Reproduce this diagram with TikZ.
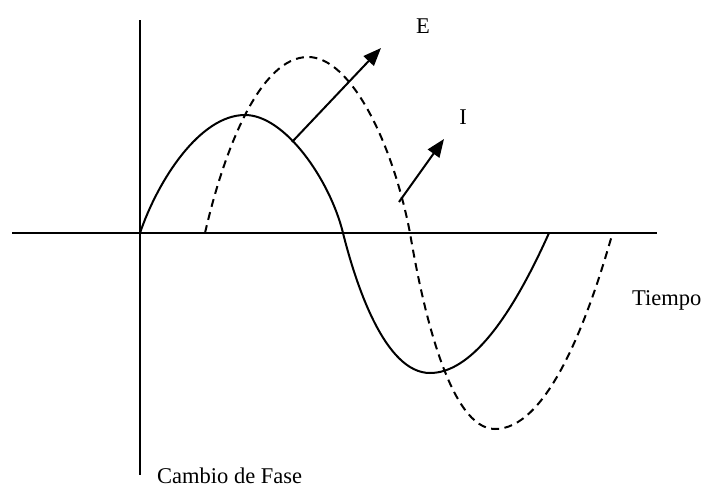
\documentclass[tikz,border=0pt]{standalone}
\usepackage{fontspec}
\setmainfont{Liberation Serif}
\usepackage{tikz}
\usetikzlibrary{positioning,arrows.meta}
\tikzset{
  axis/.style={line width=2.8pt,black},
  vaxis/.style={line width=2pt,black},
  wave/.style={line width=2pt,black},
  lag/.style={wave,dash pattern=on 8pt off 5.5pt},
  arr/.style={-{Triangle[length=18pt,width=14pt]},line width=2pt},
  lbl/.style={font=\fontsize{22.5}{26}\selectfont,inner sep=0pt},
}
\begin{document}
\begin{tikzpicture}[x=1pt,y=-1pt]
\useasboundingbox (0,0) rectangle (706,493);
% axes
\coordinate (hl) at (12,233);
\coordinate (hr) at (657,233);
\coordinate (vt) at (140,20);
\coordinate (vb) at (140,475);
\draw[axis] (hl) -- (hr);
\draw[vaxis] (vt) -- (vb);
% solid wave
\coordinate (s0) at (140,233);
\coordinate (s1) at (245,115);
\coordinate (s2) at (343,233);
\coordinate (s3) at (430,373);
\coordinate (s4) at (549,233);
\draw[wave] (s0) .. controls (158,180) and (200,115) .. (s1)
  .. controls (285,115) and (330,180) .. (s2)
  .. controls (356,285) and (385,373) .. (s3)
  .. controls (470,373) and (510,320) .. (s4);
% dashed wave
\coordinate (d0) at (205,233);
\coordinate (d1) at (308,57);
\coordinate (d2) at (410,233);
\coordinate (d3) at (495,429);
\coordinate (d4) at (612,235);
\draw[lag] (d0) .. controls (224,150) and (260,57) .. (d1)
  .. controls (350,57) and (392,140) .. (d2)
  .. controls (423,310) and (450,429) .. (d3)
  .. controls (545,429) and (585,330) .. (d4);
% arrows
\coordinate (e0) at (292,142);
\coordinate (e1) at (381,48);
\coordinate (i0) at (399,202);
\coordinate (i1) at (444,139);
\draw[arr] (e0) -- (e1);
\draw[arr] (i0) -- (i1);
% labels
\node[lbl,anchor=base] (E) at (423,33) {E};
\node[lbl,anchor=base] (I) at (463,124) {I};
\node[lbl,anchor=base west] (t) at (632,305) {Tiempo};
\node[lbl,anchor=base west] (c) at (157,483) {Cambio de Fase};
\end{tikzpicture}
\end{document}
